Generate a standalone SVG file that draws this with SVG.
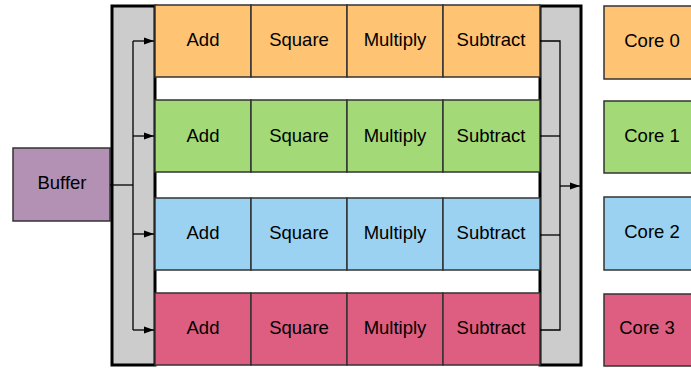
<svg xmlns="http://www.w3.org/2000/svg" width="691" height="368" viewBox="0 0 691 368">
<style>
text{font-family:"Liberation Sans",Arial,sans-serif;font-size:18.5px;fill:#000;text-anchor:middle}
.cell{stroke:#333;stroke-width:1.5}
.bar{fill:#ccc;stroke:#000;stroke-width:3}
.o{fill:#FFC374}.g{fill:#A3D977}.b{fill:#9BD2F2}.p{fill:#DE5E82}
.ln{fill:none;stroke:#000;stroke-width:1.3}
</style>
<defs>
<marker id="ah" viewBox="0 0 10 10" refX="10" refY="5" markerWidth="10" markerHeight="10" markerUnits="userSpaceOnUse" orient="auto"><path d="M0,1.5 L10,5 L0,8.5 Z" fill="#000"/></marker>
</defs>
<g id="buffer"><rect x="13" y="148" width="97" height="73" fill="#B391B5" class="cell"/><text x="62" y="189">Buffer</text></g>
<g id="leftbar"><rect class="bar" x="112" y="6" width="43" height="359"/></g>
<g id="rightbar"><rect class="bar" x="540" y="6" width="41" height="359"/></g>
<g id="row0">
<rect class="cell o" x="155" y="5" width="96" height="72"/><text x="203" y="46">Add</text>
<rect class="cell o" x="251" y="5" width="96" height="72"/><text x="299" y="46">Square</text>
<rect class="cell o" x="347" y="5" width="96" height="72"/><text x="395" y="46">Multiply</text>
<rect class="cell o" x="443" y="5" width="97" height="72"/><text x="491" y="46">Subtract</text>
</g>
<g id="row1">
<rect class="cell g" x="155" y="100" width="96" height="72"/><text x="203" y="142">Add</text>
<rect class="cell g" x="251" y="100" width="96" height="72"/><text x="299" y="142">Square</text>
<rect class="cell g" x="347" y="100" width="96" height="72"/><text x="395" y="142">Multiply</text>
<rect class="cell g" x="443" y="100" width="97" height="72"/><text x="491" y="142">Subtract</text>
</g>
<g id="row2">
<rect class="cell b" x="155" y="198" width="96" height="72"/><text x="203" y="239">Add</text>
<rect class="cell b" x="251" y="198" width="96" height="72"/><text x="299" y="239">Square</text>
<rect class="cell b" x="347" y="198" width="96" height="72"/><text x="395" y="239">Multiply</text>
<rect class="cell b" x="443" y="198" width="97" height="72"/><text x="491" y="239">Subtract</text>
</g>
<g id="row3">
<rect class="cell p" x="155" y="293" width="96" height="72"/><text x="203" y="334">Add</text>
<rect class="cell p" x="251" y="293" width="96" height="72"/><text x="299" y="334">Square</text>
<rect class="cell p" x="347" y="293" width="96" height="72"/><text x="395" y="334">Multiply</text>
<rect class="cell p" x="443" y="293" width="97" height="72"/><text x="491" y="334">Subtract</text>
</g>
<g id="core0"><rect class="cell o" x="604" y="6" width="96" height="73"/><text x="652" y="47">Core 0</text></g>
<g id="core1"><rect class="cell g" x="604" y="101" width="96" height="72"/><text x="652" y="142">Core 1</text></g>
<g id="core2"><rect class="cell b" x="604" y="197" width="96" height="73"/><text x="652" y="238">Core 2</text></g>
<g id="core3"><rect class="cell p" x="604" y="294" width="96" height="72"/><text x="647" y="334">Core 3</text></g>
<g id="connectors">
<path class="ln" d="M110,185 H133"/>
<path class="ln" d="M133,41 V330"/>
<path class="ln" d="M133,41 H154" marker-end="url(#ah)"/>
<path class="ln" d="M133,136 H154" marker-end="url(#ah)"/>
<path class="ln" d="M133,234 H154" marker-end="url(#ah)"/>
<path class="ln" d="M133,330 H154" marker-end="url(#ah)"/>
<path class="ln" d="M540,41 H560 V330 H540"/>
<path class="ln" d="M540,136 H560"/>
<path class="ln" d="M540,235 H560"/>
<path class="ln" d="M560,186 H580" marker-end="url(#ah)"/>
</g>
</svg>
